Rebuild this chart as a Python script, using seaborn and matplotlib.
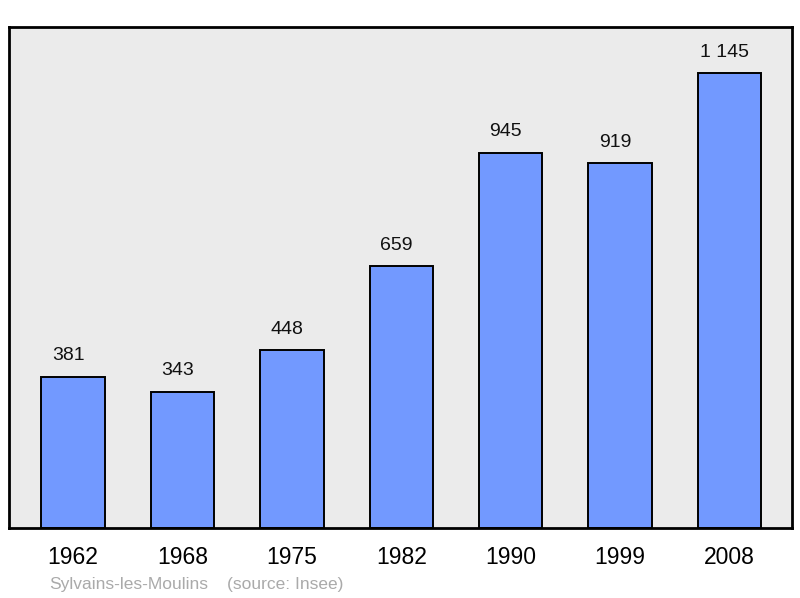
import matplotlib
matplotlib.use("Agg")
import matplotlib.pyplot as plt
import seaborn as sns
import pandas as pd

years = ["1962", "1968", "1975", "1982", "1990", "1999", "2008"]
population = [381, 343, 448, 659, 945, 919, 1145]
value_labels = ["381", "343", "448", "659", "945", "919", "1 145"]
commune = "Sylvains-les-Moulins"
source = "(source: Insee)"

sns.set_theme(style="white")
plt.rcParams['font.family'] = ['Liberation Sans', 'DejaVu Sans']

df = pd.DataFrame({"year": years, "pop": population})

fig = plt.figure(figsize=(8, 5.98), dpi=100)
ax = fig.add_axes([9/800, 70/598, 783/800, 501/598])
ax.set_facecolor("#EBEBEB")

sns.barplot(data=df, x="year", y="pop", color="#7299FF", saturation=1,
            width=0.58, edgecolor="black", linewidth=1.4, ax=ax)

ax.set_xlim(-0.585, 6.57)
ax.set_ylim(0, 1262)

for i, (v, lab) in enumerate(zip(population, value_labels)):
    ax.annotate(lab, xy=(i, v), xytext=(-3.5, 9), textcoords="offset points",
                ha="center", va="bottom", fontsize=14, color="#111111")

ax.set_xlabel("")
ax.set_ylabel("")
ax.set_yticks([])
ax.tick_params(axis="x", length=0, pad=13, labelsize=16.5, colors="black")
for s in ax.spines.values():
    s.set_visible(True)
    s.set_color("black")
    s.set_linewidth(2)

fig.text(49/800, 1 - 585/598, commune, fontsize=12.5, color="#AAAAAA",
         ha="left", va="center")
fig.text(227/800, 1 - 585/598, source, fontsize=12.5, color="#AAAAAA",
         ha="left", va="center")

fig.savefig("out.png", dpi=100, facecolor="white")
